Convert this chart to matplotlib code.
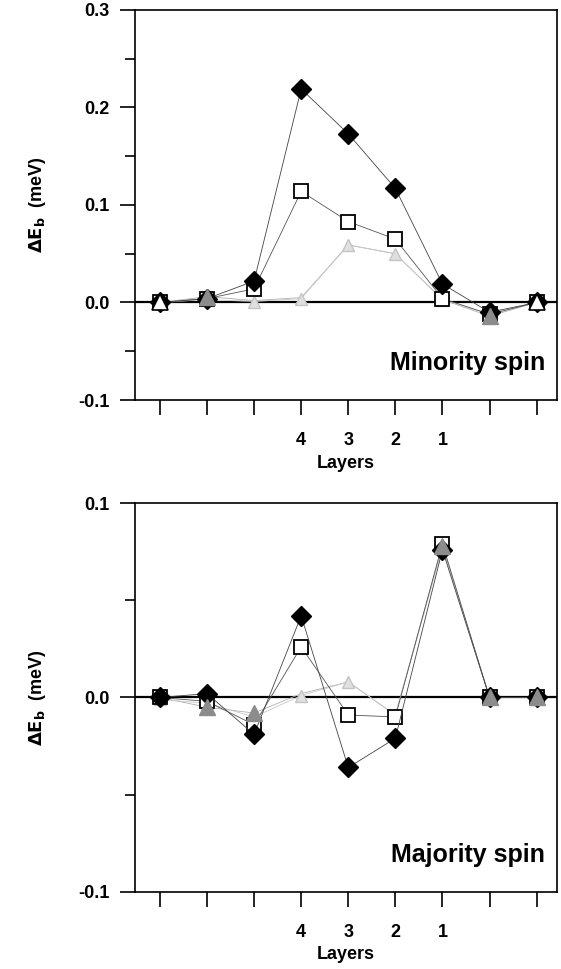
import numpy as np
import matplotlib
matplotlib.use('Agg')
import matplotlib.pyplot as plt
from matplotlib.ticker import MultipleLocator, FormatStrFormatter

plt.rcParams['font.family'] = ['Liberation Sans', 'DejaVu Sans']
plt.rcParams['font.weight'] = 'bold'
plt.rcParams['axes.unicode_minus'] = False

x = [1, 2, 3, 4, 5, 6, 7, 8, 9]
xlabels = ['', '', '', '4', '3', '2', '1', '', '']

# minority spin
min_diamond = [0.000, 0.004, 0.022, 0.219, 0.173, 0.117, 0.019, -0.010, 0.000]
min_square = [0.000, 0.004, 0.014, 0.114, 0.083, 0.065, 0.004, -0.012, 0.000]
min_gray = [0.000, 0.006, 0.002, 0.005, 0.059, 0.050, 0.003, -0.014, 0.000]
min_light = [0.000, 0.003, 0.001, 0.004, 0.059, 0.050, 0.003, -0.012, 0.000]
min_open = [0.000, 0.000]

# majority spin
maj_diamond = [0.000, 0.002, -0.019, 0.042, -0.036, -0.021, 0.076, 0.000, 0.000]
maj_square = [0.000, -0.002, -0.014, 0.026, -0.009, -0.010, 0.079, 0.000, 0.000]
maj_gray = [0.000, -0.005, -0.008, 0.002, 0.008, -0.009, 0.078, 0.000, 0.000]
maj_light = [-0.001, -0.003, -0.010, 0.001, 0.008, -0.009, 0.077, 0.000, 0.000]

fig = plt.figure(figsize=(5.61, 9.69), dpi=100)
ax1 = fig.add_axes([0.2406, 0.5872, 0.752, 0.4025])
ax2 = fig.add_axes([0.2406, 0.0795, 0.752, 0.4014])


def draw(ax, d, s, g, l, gshow, ylim, title):
    ax.axhline(0, color='black', lw=1.6, zorder=1)
    ax.plot(x, g, color='#b0b0b0', lw=0.6, zorder=2)
    ax.plot(x, g, ls='none', marker='^', ms=11, mfc='#8c8c8c',
            mec='#8c8c8c', markevery=gshow, zorder=6)
    ax.plot(x, l, color='#c8c8c8', lw=0.6, marker='^', ms=8,
            mfc='#e0e0e0', mec='#c4c4c4', zorder=3)
    ax.plot(x, s, color='#555555', lw=0.6, marker='s', ms=10,
            mfc='white', mec='black', mew=1.3, zorder=4)
    ax.plot(x, d, color='#444444', lw=0.6, marker='D', ms=10,
            mfc='black', mec='black', zorder=5)
    ax.set_xlim(0.47, 9.43)
    ax.set_ylim(*ylim)
    ax.set_xticks(x)
    ax.set_xticklabels(xlabels, fontsize=13, fontweight='bold')
    ax.yaxis.set_major_locator(MultipleLocator(0.1))
    ax.yaxis.set_minor_locator(MultipleLocator(0.05))
    ax.yaxis.set_major_formatter(FormatStrFormatter('%.1f'))
    ax.tick_params(axis='y', which='major', direction='out', length=11,
                   width=1.2, labelsize=13, pad=7)
    ax.tick_params(axis='y', which='minor', direction='out', length=7,
                   width=1.2)
    ax.tick_params(axis='x', direction='out', length=11, width=1.2,
                   labelsize=13, pad=12)
    for lab in ax.get_yticklabels():
        lab.set_fontweight('bold')
    for sp in ax.spines.values():
        sp.set_linewidth(1.2)
    ax.set_xlabel('Layers', fontsize=13, fontweight='bold', labelpad=4)
    ax.set_ylabel(r'$\Delta\mathbf{E_b}$  (meV)', fontsize=13,
                  fontweight='bold', labelpad=22)
    ax.text(0.972, 0.095, title, transform=ax.transAxes, ha='right',
            va='center', fontsize=18, fontweight='bold')


draw(ax1, min_diamond, min_square, min_gray, min_light, [1, 7],
     (-0.1, 0.3), 'Minority spin')
draw(ax2, maj_diamond, maj_square, maj_gray, maj_light, [1, 2, 6, 7, 8],
     (-0.1, 0.1), 'Majority spin')

# open triangles at the outer layers
ax1.plot([x[0], x[-1]], min_open, ls='none', marker='^', ms=11,
         mfc='white', mec='black', mew=1.2, zorder=7)

fig.savefig('out.png', dpi=100)
